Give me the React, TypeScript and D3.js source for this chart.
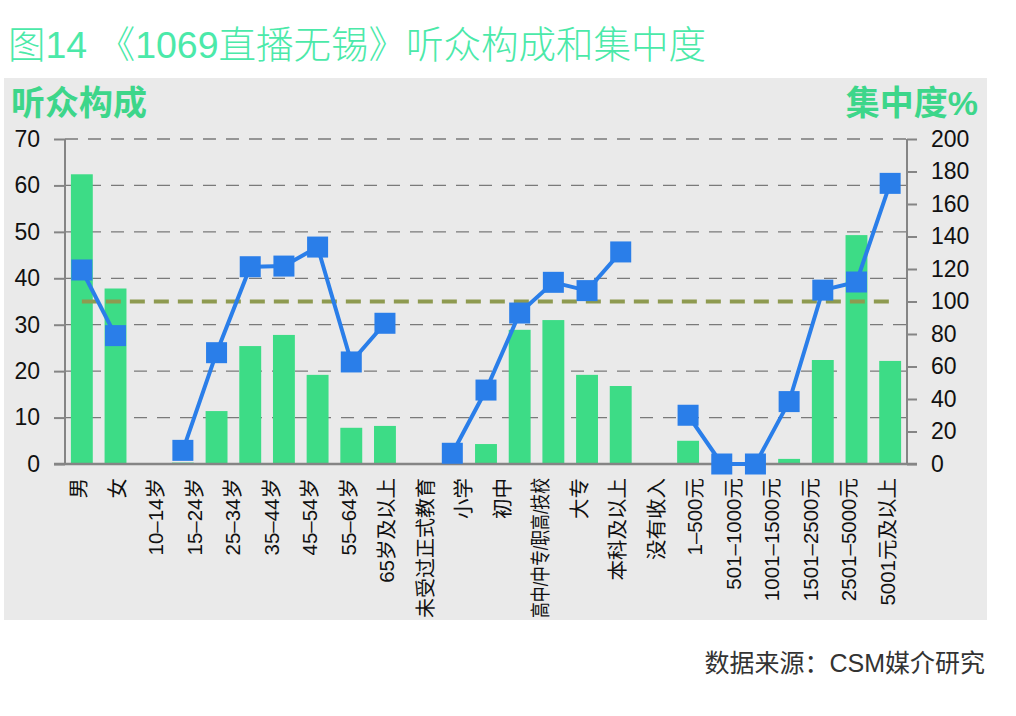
import React, { useRef, useEffect } from "react";
import * as d3 from "d3";

const labels = [
  "男", "女",
  "10–14岁", "15–24岁", "25–34岁", "35–44岁", "45–54岁", "55–64岁", "65岁及以上",
  "未受过正式教育", "小学", "初中", "高中/中专/职高/技校", "大专", "本科及以上",
  "没有收入", "1–500元", "501–1000元", "1001–1500元", "1501–2500元", "2501–5000元", "5001元及以上",
];
// which group each category belongs to (gender, age, education, income)
const groupOf = [0, 0, 1, 1, 1, 1, 1, 1, 1, 2, 2, 2, 2, 2, 2, 3, 3, 3, 3, 3, 3, 3];
// 听众构成 (%), left axis
const share = [62.4, 37.8, 0.3, 11.4, 25.4, 27.8, 19.2, 7.8, 8.2, 0, 4.3, 28.9, 31.0, 19.2, 16.8, 5.0, 0, 0, 1.1, 22.4, 49.3, 22.2];
// 集中度 (%), right axis
const concentration = [119.4, 79, 8.4, 68.5, 121.4, 121.8, 133.5, 62.8, 86.6, 6.6, 45.5, 92.9, 111.8, 106.7, 130.5, 30, 0, 0, 38.4, 107, 112, 172.7];
const leftTicks = [0, 10, 20, 30, 40, 50, 60, 70];
const rightTicks = [0, 20, 40, 60, 80, 100, 120, 140, 160, 180, 200];
const benchmark = 100;

const W = 1016, H = 716;
const m = { left: 65, right: 907, top: 139, bottom: 464 };
const FONT = "'Liberation Sans', Arial, 'Noto Sans CJK SC', sans-serif";
const BAR = "#3ddc86";
const BLUE = "#2a7ee9";

export default function App() {
  const ref = useRef<SVGSVGElement>(null);

  useEffect(() => {
    const svg = d3.select(ref.current);
    svg.selectAll("*").remove();

    // panel
    svg.append("rect").attr("width", W).attr("height", H).attr("fill", "#fff");
    svg.append("rect").attr("x", 4).attr("y", 78).attr("width", 983).attr("height", 542).attr("fill", "#eaeaea");

    svg.append("text").attr("x", 8).attr("y", 58)
      .attr("font-family", FONT).attr("font-size", 37.5).attr("font-weight", 300)
      .attr("fill", "#4be9a9")
      .text("图14 《1069直播无锡》听众构成和集中度");

    const nSlots = labels.length + d3.max(groupOf)!;
    const slot = (i: number) => i + groupOf[i];
    const x = d3.scaleBand<number>().domain(d3.range(nSlots)).range([m.left, m.right])
      .paddingInner(0.35).paddingOuter(0.175);
    const xl = d3.scaleBand<string>().domain(labels).range([60, m.right]);
    const yL = d3.scaleLinear().domain([0, 70]).range([m.bottom, m.top]);
    const yR = d3.scaleLinear().domain([0, 200]).range([m.bottom, m.top]);
    const cx = (i: number) => x(slot(i))! + x.bandwidth() / 2;

    // grid
    svg.append("g").selectAll("line").data(leftTicks.slice(1)).join("line")
      .attr("x1", m.left).attr("x2", m.right)
      .attr("y1", d => yL(d)).attr("y2", d => yL(d))
      .attr("stroke", "#7a7a7a").attr("stroke-width", 1.3).attr("stroke-dasharray", "13,10");

    // bars
    svg.append("g").selectAll("rect").data(share).join("rect")
      .attr("x", (_, i) => x(slot(i))!)
      .attr("width", x.bandwidth())
      .attr("y", d => yL(d))
      .attr("height", d => yL(0) - yL(d))
      .attr("fill", BAR);

    // axes
    const axisColor = "#858585";
    const left = svg.append("g").attr("transform", `translate(${m.left},0)`)
      .call(d3.axisLeft(yL).tickValues(leftTicks).tickSize(11).tickPadding(14));
    const right = svg.append("g").attr("transform", `translate(${m.right},0)`)
      .call(d3.axisRight(yR).tickValues(rightTicks).tickSize(10).tickPadding(14));
    [left, right].forEach(g => {
      g.select(".domain").attr("stroke", axisColor).attr("stroke-width", 2).attr("d",
        `M0,${m.top}V${m.bottom}`);
      g.selectAll(".tick line").attr("stroke", axisColor).attr("stroke-width", 2);
      g.selectAll(".tick text").attr("font-family", FONT).attr("font-size", 23).attr("fill", "#111");
    });
    svg.append("line").attr("x1", m.left - 11).attr("x2", m.right + 10)
      .attr("y1", m.bottom).attr("y2", m.bottom)
      .attr("stroke", axisColor).attr("stroke-width", 2.5);

    // benchmark line at 100%
    svg.append("line")
      .attr("x1", cx(0)).attr("x2", cx(labels.length - 1))
      .attr("y1", yR(benchmark)).attr("y2", yR(benchmark))
      .attr("stroke", "#8e9a50").attr("stroke-width", 4).attr("stroke-dasharray", "15,9");

    // concentration lines per group
    const line = d3.line<number>().x(i => cx(i)).y(i => yR(concentration[i]));
    const groups = d3.groups(d3.range(labels.length), i => groupOf[i]);
    svg.append("g").selectAll("path").data(groups).join("path")
      .attr("d", g => line(g[1]))
      .attr("fill", "none").attr("stroke", BLUE).attr("stroke-width", 4);
    const s = 21;
    svg.append("g").selectAll("rect").data(concentration).join("rect")
      .attr("x", (_, i) => cx(i) - s / 2).attr("y", d => yR(d) - s / 2)
      .attr("width", s).attr("height", s).attr("fill", BLUE);

    // category labels
    svg.append("g").selectAll("text").data(labels).join("text")
      .attr("transform", d => `translate(${xl(d)! + xl.bandwidth() / 2},478) rotate(-90)`)
      .attr("dy", "0.35em").attr("text-anchor", "end")
      .attr("font-family", FONT).attr("font-size", 20.5).attr("fill", "#111")
      .text(d => d)
      .each(function () {
        const t = this as SVGTextElement;
        if (t.getComputedTextLength() > 140) {
          t.setAttribute("textLength", "140");
          t.setAttribute("lengthAdjust", "spacingAndGlyphs");
        }
      });

    // axis titles
    svg.append("text").attr("x", 11).attr("y", 115)
      .attr("font-family", FONT).attr("font-size", 34).attr("font-weight", 700)
      .attr("fill", "#3dd68a").text("听众构成");
    svg.append("text").attr("x", 978).attr("y", 115).attr("text-anchor", "end")
      .attr("font-family", FONT).attr("font-size", 34).attr("font-weight", 700)
      .attr("fill", "#3dd68a").text("集中度%");

    svg.append("text").attr("x", 985).attr("y", 672).attr("text-anchor", "end")
      .attr("font-family", FONT).attr("font-size", 25).attr("fill", "#333")
      .text("数据来源：CSM媒介研究");
  }, []);

  return (
    <svg ref={ref} width={W} height={H}
      style={{ position: "absolute", left: 0, top: 0, display: "block" }} />
  );
}
